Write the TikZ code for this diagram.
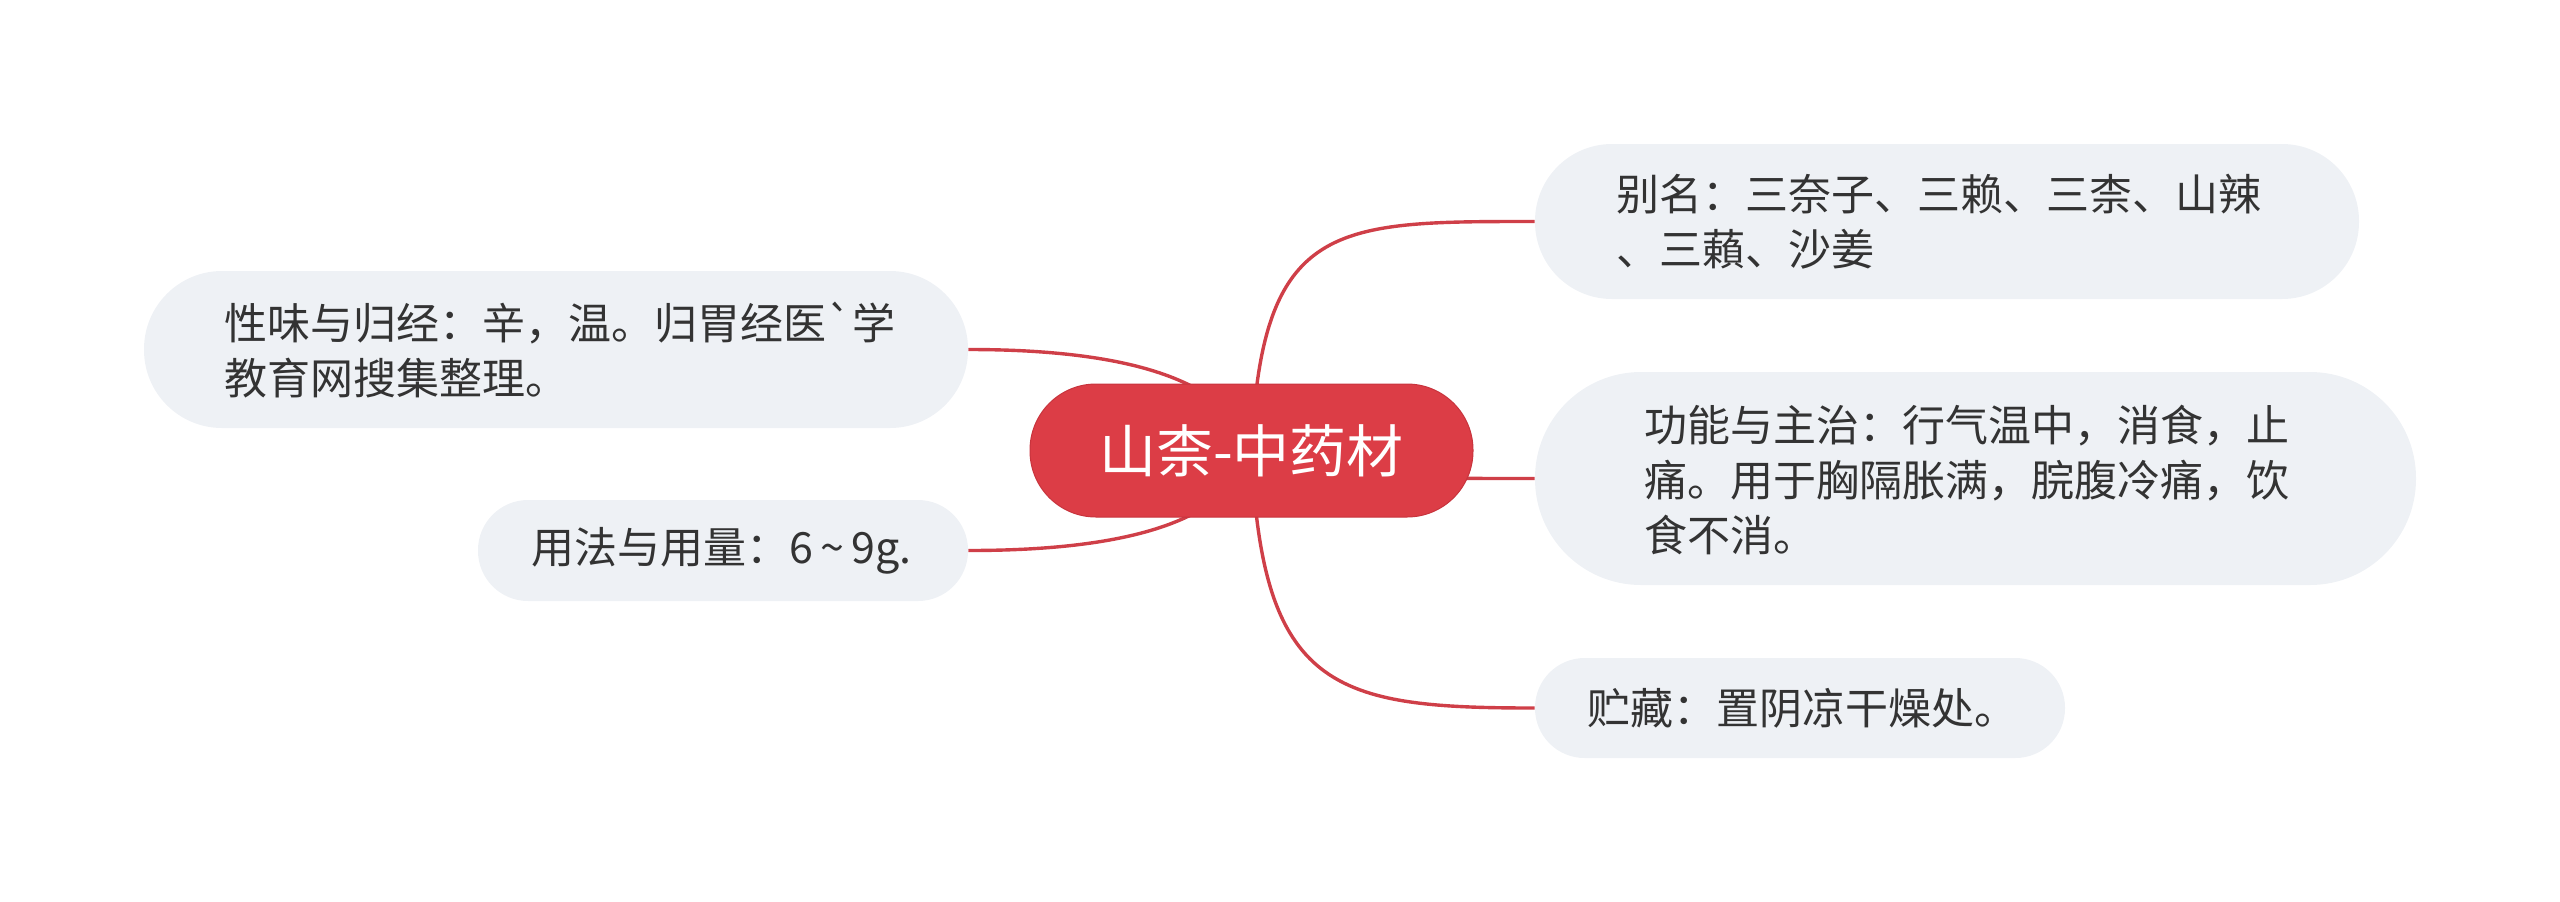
\documentclass[tikz,border=0pt]{standalone}
\usepackage{fontspec}
\setmainfont{Noto Sans CJK SC}
\newfontfamily\cjkplain{Noto Sans CJK SC}
\usetikzlibrary{backgrounds}
\definecolor{boxfill}{HTML}{EEF1F5}
\definecolor{txt}{HTML}{333333}
\definecolor{linkred}{HTML}{CF3F48}
\definecolor{rootred}{HTML}{DC3D46}
\definecolor{rootdraw}{HTML}{C8343D}
\tikzset{
  leafbox/.style={fill=boxfill, draw=none, inner sep=0pt},
  leaftext/.style={anchor=west, inner sep=0pt, align=left, text=txt,
    font=\cjkplain\fontsize{21.5pt}{27.5pt}\selectfont},
  rootbox/.style={fill=rootred, draw=rootdraw, line width=0.5pt, inner sep=0pt,
    minimum width=221.5pt, minimum height=66.5pt, rounded corners=33pt,
    text=white, font=\fontsize{28.5pt}{34pt}\selectfont},
  link/.style={draw=linkred, line width=1.7pt}
}
\begin{document}
\begin{tikzpicture}[x=0.5pt,y=-0.5pt]
\useasboundingbox (0,0) rectangle (2560,901);
% leaf boxes
\node[leafbox, minimum width=412pt, minimum height=77.5pt, rounded corners=38.5pt] (b1) at (1947,221.5) {};
\node[leafbox, minimum width=440.5pt, minimum height=106.5pt, rounded corners=53pt] (b2) at (1975.5,478.5) {};
\node[leafbox, minimum width=265pt, minimum height=50pt, rounded corners=24.8pt] (b3) at (1800,708) {};
\node[leafbox, minimum width=412pt, minimum height=78.5pt, rounded corners=39pt] (l1) at (556,349.5) {};
\node[leafbox, minimum width=245pt, minimum height=50.5pt, rounded corners=25pt] (l2) at (723,550.5) {};
% texts
\node[leaftext] (t1) at (1616,222) {别名：三奈子、三赖、三柰、山辣\\、三藾、沙姜};
\node[leaftext] (t2) at (1644,480) {功能与主治：行气温中，消食，止\\痛。用于胸隔胀满，脘腹冷痛，饮\\食不消。};
\node[leaftext] (t3) at (1587,708) {贮藏：置阴凉干燥处。};
\node[leaftext] (tl1) at (224,350) {性味与归经：辛，温。归胃经医`学\\教育网搜集整理。};
\node[leaftext] (tl2) at (531,551) {用法与用量：6\,\textasciitilde\,9g.};
% root
\node[rootbox] (c) at (1251.5,450.5) {山柰-中药材};
% connectors
\begin{pgfonlayer}{background}
\draw[link] (c.center) .. controls +(10,-230) and +(-200,0) .. (b1.west);
\draw[link] (c.center) .. controls +(110,28) and +(-150,0) .. (b2.west);
\draw[link] (c.center) .. controls +(10,240) and +(-200,0) .. (b3.west);
\draw[link] (c.center) .. controls +(-25,-80) and +(133,0) .. (l1.east);
\draw[link] (c.center) .. controls +(-25,80) and +(133,0) .. (l2.east);
\end{pgfonlayer}
\end{tikzpicture}
\end{document}
